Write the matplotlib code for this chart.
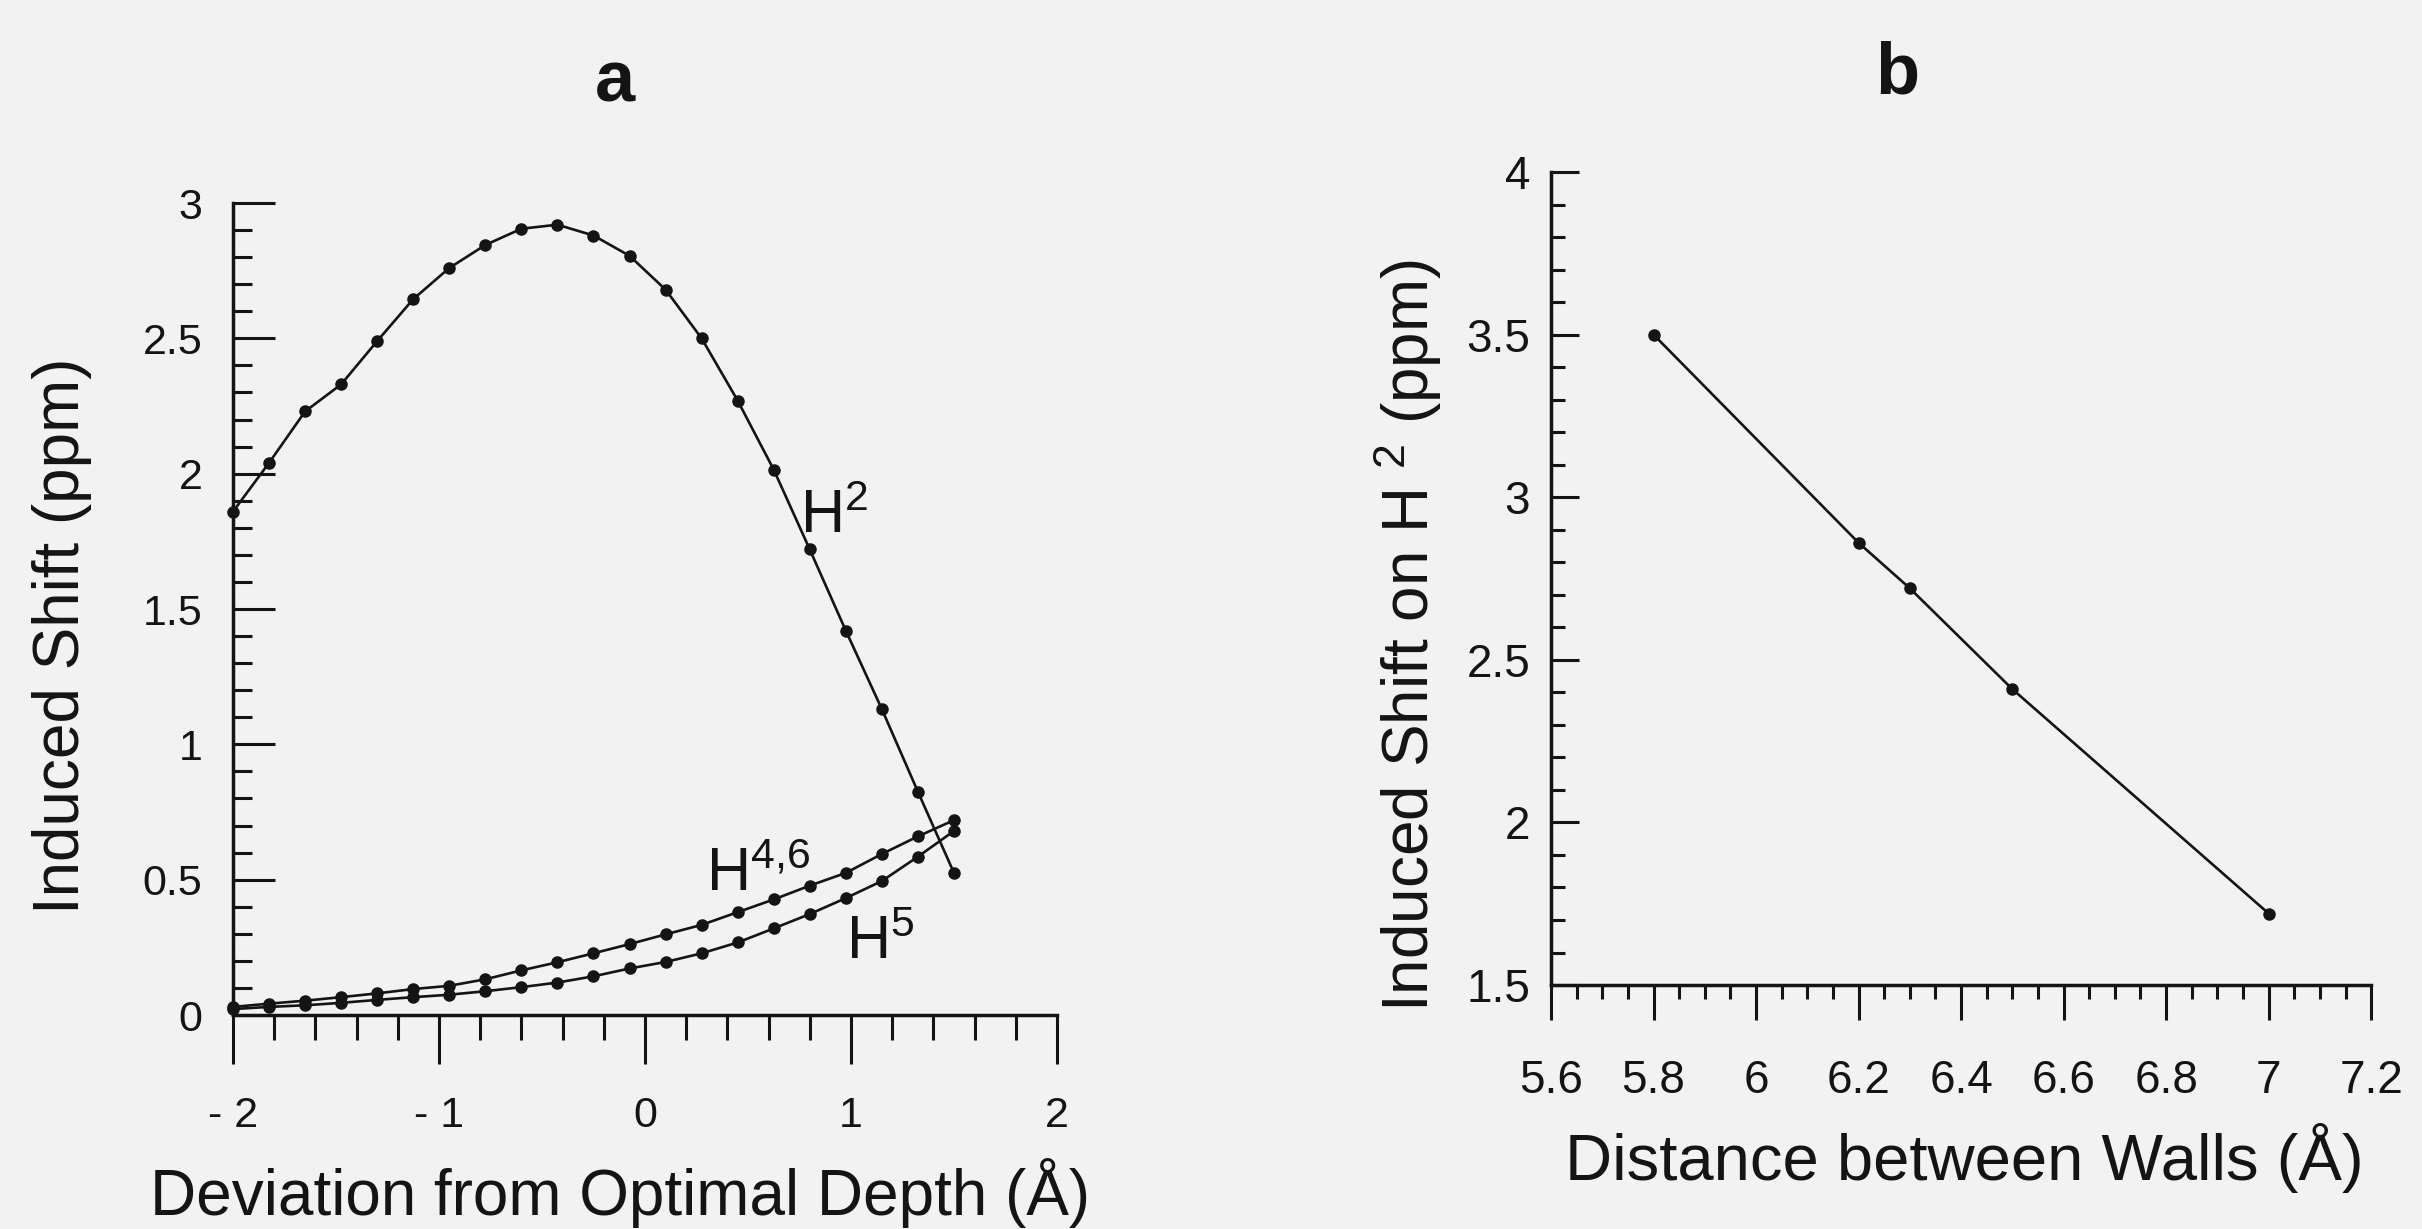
import matplotlib
matplotlib.use('Agg')
import matplotlib.pyplot as plt
from matplotlib.ticker import MultipleLocator

plt.rcParams['font.family'] = ['Liberation Sans', 'DejaVu Sans']
plt.rcParams['mathtext.fontset'] = 'custom'
plt.rcParams['mathtext.rm'] = 'Liberation Sans'
plt.rcParams['mathtext.default'] = 'regular'
plt.rcParams['axes.unicode_minus'] = False

# panel a: shift vs deviation from optimal depth
deviation = [-2.0, -1.825, -1.65, -1.475, -1.3, -1.125, -0.95, -0.775, -0.6, -0.425, -0.25,
             -0.075, 0.1, 0.275, 0.45, 0.625, 0.8, 0.975, 1.15, 1.325, 1.5]
shiftH2 = [1.86, 2.04, 2.23, 2.33, 2.49, 2.645, 2.76, 2.845, 2.905, 2.92, 2.88,
           2.805, 2.68, 2.50, 2.27, 2.015, 1.72, 1.42, 1.13, 0.825, 0.525]
shiftH46 = [0.03, 0.042, 0.053, 0.066, 0.08, 0.096, 0.108, 0.132, 0.165, 0.195, 0.228,
            0.262, 0.298, 0.333, 0.38, 0.427, 0.478, 0.525, 0.595, 0.66, 0.72]
shiftH5 = [0.022, 0.03, 0.036, 0.045, 0.056, 0.066, 0.075, 0.088, 0.103, 0.12, 0.143,
           0.172, 0.196, 0.228, 0.268, 0.32, 0.373, 0.432, 0.495, 0.585, 0.68]
devTicks = [-2, -1, 0, 1, 2]
devTickLabels = ['- 2', '- 1', '0', '1', '2']
shiftTicksA = [0, 0.5, 1, 1.5, 2, 2.5, 3]
shiftTickLabelsA = ['0', '0.5', '1', '1.5', '2', '2.5', '3']

# panel b: shift on H2 vs wall distance
wallDistance = [5.8, 6.2, 6.3, 6.5, 7.0]
wallShift = [3.5, 2.86, 2.72, 2.41, 1.72]
wallTicks = [5.6, 5.8, 6.0, 6.2, 6.4, 6.6, 6.8, 7.0, 7.2]
wallTickLabels = ['5.6', '5.8', '6', '6.2', '6.4', '6.6', '6.8', '7', '7.2']
shiftTicksB = [1.5, 2, 2.5, 3, 3.5, 4]
shiftTickLabelsB = ['1.5', '2', '2.5', '3', '3.5', '4']

INK = '#141414'
PAPER = '#f2f2f2'


def styleAxes(ax):
    ax.set_facecolor('none')
    for side in ['top', 'right']:
        ax.spines[side].set_visible(False)
    for side in ['left', 'bottom']:
        ax.spines[side].set_linewidth(2.5)
        ax.spines[side].set_color(INK)


def drawSeries(ax, x, y):
    ax.plot(x, y, color=INK, lw=1.9, marker='o', ms=8, mfc=INK, mec=INK,
            clip_on=False, zorder=3)


fig = plt.figure(figsize=(24.22, 12.29), dpi=100, facecolor=PAPER)

axA = fig.add_axes([0.0962, 0.1741, 0.3402, 0.6607])
styleAxes(axA)
drawSeries(axA, deviation, shiftH2)
drawSeries(axA, deviation, shiftH46)
drawSeries(axA, deviation, shiftH5)
axA.set_xlim(-2, 2)
axA.set_ylim(0, 3)
axA.set_xticks(devTicks, devTickLabels)
axA.set_yticks(shiftTicksA, shiftTickLabelsA)
axA.xaxis.set_minor_locator(MultipleLocator(0.2))
axA.yaxis.set_minor_locator(MultipleLocator(0.1))
axA.tick_params(axis='x', which='major', direction='out', length=35, width=2.2,
                pad=23, labelsize=31, colors=INK)
axA.tick_params(axis='x', which='minor', direction='out', length=18, width=2.2, colors=INK)
axA.tick_params(axis='y', which='major', direction='in', length=30, width=2.2,
                pad=22, labelsize=31, colors=INK)
axA.tick_params(axis='y', which='minor', direction='in', length=14, width=2.2, colors=INK)
axA.set_xlabel('Deviation from Optimal Depth (Å)', fontsize=46, color=INK)
axA.xaxis.set_label_coords(0.47, -0.219)
axA.xaxis.label.set_va('center')
axA.set_ylabel('Induced Shift (ppm)', fontsize=46, color=INK)
axA.yaxis.set_label_coords(-0.2075, 0.467)
axA.yaxis.label.set_va('center')
axA.text(0.753, 1.78, 'H$^{2}$', fontsize=44, color=INK, ha='left', va='baseline')
axA.text(0.298, 0.46, 'H$^{4{,}6}$', fontsize=44, color=INK, ha='left', va='baseline')
axA.text(0.975, 0.206, 'H$^{5}$', fontsize=44, color=INK, ha='left', va='baseline')

axB = fig.add_axes([0.6404, 0.1985, 0.3386, 0.6615])
styleAxes(axB)
drawSeries(axB, wallDistance, wallShift)
axB.set_xlim(5.6, 7.2)
axB.set_ylim(1.5, 4)
axB.set_xticks(wallTicks, wallTickLabels)
axB.set_yticks(shiftTicksB, shiftTickLabelsB)
axB.xaxis.set_minor_locator(MultipleLocator(0.05))
axB.yaxis.set_minor_locator(MultipleLocator(0.1))
axB.tick_params(axis='x', which='major', direction='out', length=25, width=2.2,
                pad=28, labelsize=33, colors=INK)
axB.tick_params(axis='x', which='minor', direction='out', length=10, width=2.2, colors=INK)
axB.tick_params(axis='y', which='major', direction='in', length=20, width=2.2,
                pad=15, labelsize=33, colors=INK)
axB.tick_params(axis='y', which='minor', direction='in', length=10, width=2.2, colors=INK)
axB.set_xlabel('Distance between Walls (Å)', fontsize=47, color=INK)
axB.xaxis.set_label_coords(0.504, -0.213)
axB.xaxis.label.set_va('center')
axB.set_ylabel('Induced Shift on H $^{2}$ (ppm)', fontsize=46, color=INK)
axB.yaxis.set_label_coords(-0.1756, 0.43)
axB.yaxis.label.set_va('center')

fig.text(615 / 2422, 1 - 102 / 1229, 'a', fontsize=52, fontweight='bold',
         color=INK, ha='center', va='baseline')
fig.text(1897 / 2422, 1 - 93 / 1229, 'b', fontsize=52, fontweight='bold',
         color=INK, ha='center', va='baseline')

fig.savefig('out.png', dpi=100, facecolor=PAPER)
